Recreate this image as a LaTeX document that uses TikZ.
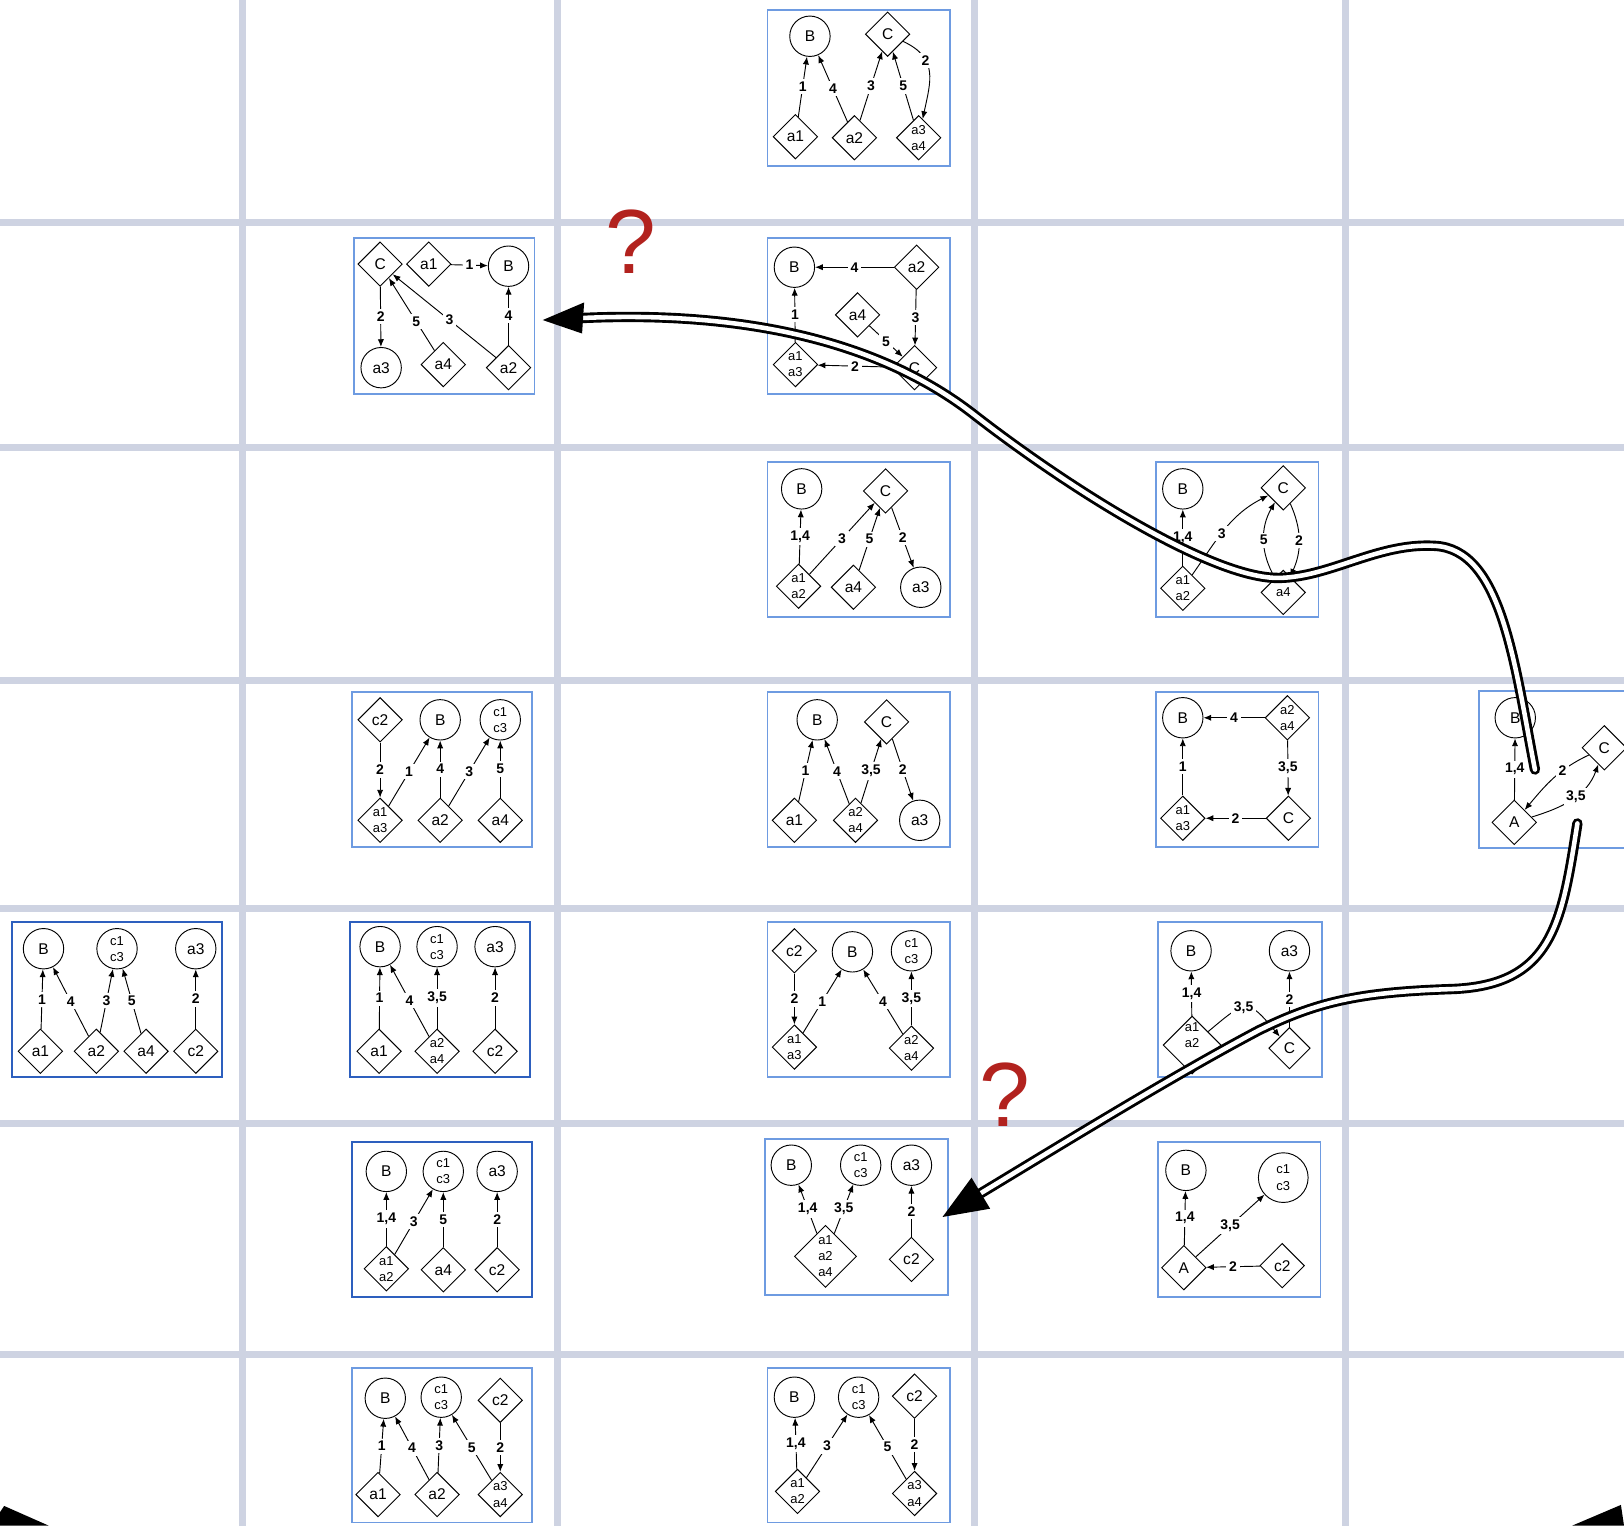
\documentclass[tikz,border=0pt]{standalone}
\usepackage{fontspec}
\setmainfont{Liberation Sans}
\usetikzlibrary{shapes.geometric,arrows.meta}
\definecolor{gridc}{RGB}{206,211,226}
\definecolor{boxc}{RGB}{110,155,225}
\definecolor{dboxc}{RGB}{45,95,190}
\definecolor{qred}{RGB}{178,34,30}
\begin{document}
\begin{tikzpicture}[x=1pt,y=-1pt,
  gridline/.style={draw=gridc, line width=7pt},
  lbox/.style={draw=boxc, line width=1.8pt, fill=white},
  dbox/.style={draw=dboxc, line width=2pt, fill=white},
  cn/.style={circle, draw, line width=0.9pt, minimum size=39pt, inner sep=0pt, font=\fontsize{15}{15}\selectfont},
  dn/.style={diamond, draw, line width=0.9pt, minimum size=43pt, inner sep=0pt, font=\fontsize{15}{15}\selectfont},
  two/.style={align=center, font=\fontsize{12.5}{15.5}\selectfont},
  e/.style={draw, line width=0.9pt, -{Latex[length=7.5pt,width=6pt]}},
  lab/.style={fill=white, inner sep=2.6pt, font=\fontsize{13.5}{13.5}\selectfont\bfseries},
  big/.style={draw=black, line width=2.8pt, double=white, double distance=4.4pt},
  qm/.style={text=qred, font=\fontsize{88}{88}\selectfont, inner sep=0pt},
]
\fill[white] (0,0) rectangle (1568,1473);
\useasboundingbox (0,0) rectangle (1568,1473);
\begin{scope}
\clip (0,0) rectangle (1568,1473);
% grid
\foreach \gx in {234,538,941,1299} {\draw[gridline] (\gx,0) -- (\gx,1473);}
\foreach \gy in {215,432,657,877,1085,1308} {\draw[gridline] (0,\gy) -- (1568,\gy);}
% boxes
\draw[lbox] (741,10) rectangle (917,160);
\draw[lbox] (342,230) rectangle (516,380);
\draw[lbox] (741,230) rectangle (917,380);
\draw[lbox] (741,446) rectangle (917,596);
\draw[lbox] (1116,446) rectangle (1273,596);
\draw[lbox] (340,668) rectangle (514,818);
\draw[lbox] (741,668) rectangle (917,818);
\draw[lbox] (1116,668) rectangle (1273,818);
\draw[lbox] (1428,667) rectangle (1590,819);
\draw[dbox] (12,890) rectangle (214,1040);
\draw[dbox] (338,890) rectangle (512,1040);
\draw[lbox] (741,890) rectangle (917,1040);
\draw[lbox] (1118,890) rectangle (1276,1040);
\draw[dbox] (340,1103) rectangle (514,1252);
\draw[lbox] (739,1100) rectangle (915,1250);
\draw[lbox] (1118,1103) rectangle (1275,1252);
\draw[lbox] (340,1321) rectangle (514,1470);
\draw[lbox] (741,1321) rectangle (917,1470);

% R1
\node[cn] (r1B) at (782,35) {B};
\node[dn] (r1C) at (857,33) {C};
\node[dn] (r1a1) at (768,132) {a1};
\node[dn] (r1a2) at (825,133) {a2};
\node[dn,two] (r1a34) at (887,133) {a3\\a4};
\draw[e] (r1a1) -- node[lab]{1} (r1B);
\draw[e] (r1a2) -- node[lab]{4} (r1B);
\draw[e] (r1a2) -- node[lab]{3} (r1C);
\draw[e] (r1a34) -- node[lab]{5} (r1C);
\draw[e] (r1C) to[out=-25,in=78,looseness=1.25] node[lab,pos=0.33]{2} (r1a34);

% R2L
\node[dn] (r2C) at (367,255) {C};
\node[dn] (r2a1) at (414,255) {a1};
\node[cn] (r2B) at (491,257) {B};
\node[cn] (r2a3) at (368,355) {a3};
\node[dn] (r2a4) at (428,352) {a4};
\node[dn] (r2a2) at (491,355) {a2};
\draw[e] (r2a1) -- node[lab]{1} (r2B);
\draw[e] (r2C) -- node[lab]{2} (r2a3);
\draw[e] (r2a4) -- node[lab,pos=0.4]{5} (r2C);
\draw[e] (r2a2) -- node[lab,pos=0.45]{3} (r2C);
\draw[e] (r2a2) -- node[lab]{4} (r2B);

% R2M
\node[cn] (r2mB) at (767,258) {B};
\node[dn] (r2ma2) at (885,258) {a2};
\node[dn] (r2ma4) at (828,304) {a4};
\node[dn,two] (r2ma13) at (768,352) {a1\\a3};
\node[dn] (r2mC) at (883,355) {C};
\draw[e] (r2ma2) -- node[lab]{4} (r2mB);
\draw[e] (r2ma2) -- node[lab]{3} (r2mC);
\draw[e] (r2ma4) -- node[lab]{5} (r2mC);
\draw[e] (r2mC) -- node[lab]{2} (r2ma13);
\draw[e] (r2ma13) -- node[lab]{1} (r2mB);

% R3M
\node[cn] (r3mB) at (774,472) {B};
\node[dn] (r3mC) at (855,474) {C};
\node[dn,two] (r3ma12) at (771,566) {a1\\a2};
\node[dn] (r3ma4) at (824,567) {a4};
\node[cn] (r3ma3) at (889,567) {a3};
\draw[e] (r3ma12) -- node[lab]{1,4} (r3mB);
\draw[e] (r3ma12) -- node[lab]{3} (r3mC);
\draw[e] (r3ma4) -- node[lab]{5} (r3mC);
\draw[e] (r3mC) -- node[lab]{2} (r3ma3);

% R3R
\node[cn] (r3rB) at (1142,472) {B};
\node[dn] (r3rC) at (1239,471) {C};
\node[dn,two] (r3ra12) at (1142,568) {a1\\a2};
\node[dn,two] (r3ra4) at (1239,572) {a4};
\draw[e] (r3ra12) -- node[lab]{1,4} (r3rB);
\draw[e] (r3ra12) to[out=55,in=207] node[lab,pos=0.45]{3} (r3rC);
\draw[e] (r3ra4) to[bend left=30] node[lab]{5} (r3rC);
\draw[e] (r3rC) to[bend left=24] node[lab]{2} (r3ra4);

% R4L
\node[dn] (r4lc2) at (367,695) {c2};
\node[cn] (r4lB) at (425,695) {B};
\node[cn,two] (r4lc13) at (483,695) {c1\\c3};
\node[dn,two] (r4la13) at (367,792) {a1\\a3};
\node[dn] (r4la2) at (425,792) {a2};
\node[dn] (r4la4) at (483,792) {a4};
\draw[e] (r4lc2) -- node[lab]{2} (r4la13);
\draw[e] (r4la13) -- node[lab]{1} (r4lB);
\draw[e] (r4la2) -- node[lab]{4} (r4lB);
\draw[e] (r4la2) -- node[lab]{3} (r4lc13);
\draw[e] (r4la4) -- node[lab]{5} (r4lc13);

% R4M
\node[cn] (r4mB) at (789,695) {B};
\node[dn] (r4mC) at (856,697) {C};
\node[dn] (r4ma1) at (767,792) {a1};
\node[dn,two] (r4ma24) at (826,792) {a2\\a4};
\node[cn] (r4ma3) at (888,792) {a3};
\draw[e] (r4ma1) -- node[lab]{1} (r4mB);
\draw[e] (r4ma24) -- node[lab]{4} (r4mB);
\draw[e] (r4ma24) -- node[lab]{3,5} (r4mC);
\draw[e] (r4mC) -- node[lab]{2} (r4ma3);

% R4R
\node[cn] (r4rB) at (1142,693) {B};
\node[dn,two] (r4ra24) at (1243,693) {a2\\a4};
\node[dn,two] (r4ra13) at (1142,790) {a1\\a3};
\node[dn] (r4rC) at (1244,790) {C};
\draw[e] (r4ra24) -- node[lab]{4} (r4rB);
\draw[e] (r4ra24) -- node[lab]{3,5} (r4rC);
\draw[e] (r4rC) -- node[lab]{2} (r4ra13);
\draw[e] (r4ra13) -- node[lab]{1} (r4rB);

% R4FR
\node[cn] (r4fB) at (1463,693) {B};
\node[dn] (r4fC) at (1549,722) {C};
\node[dn] (r4fA) at (1462,794) {A};
\draw[e] (r4fA) -- node[lab]{1,4} (r4fB);
\draw[e] (r4fC) to[out=205,in=50] node[lab,pos=0.35]{2} (r4fA);
\draw[e] (r4fA) to[out=17,in=250] node[lab,pos=0.55]{3,5} (r4fC);

% R5_1
\node[cn] (r51B) at (42,916) {B};
\node[cn,two] (r51c13) at (113,916) {c1\\c3};
\node[cn] (r51a3) at (189,916) {a3};
\node[dn] (r51a1) at (39,1015) {a1};
\node[dn] (r51a2) at (93,1015) {a2};
\node[dn] (r51a4) at (141,1015) {a4};
\node[dn] (r51c2) at (189,1015) {c2};
\draw[e] (r51a1) -- node[lab]{1} (r51B);
\draw[e] (r51a2) -- node[lab]{4} (r51B);
\draw[e] (r51a2) -- node[lab]{3} (r51c13);
\draw[e] (r51a4) -- node[lab]{5} (r51c13);
\draw[e] (r51c2) -- node[lab]{2} (r51a3);

% R5_2
\node[cn] (r52B) at (367,914) {B};
\node[cn,two] (r52c13) at (422,914) {c1\\c3};
\node[cn] (r52a3) at (478,914) {a3};
\node[dn] (r52a1) at (366,1015) {a1};
\node[dn,two] (r52a24) at (422,1015) {a2\\a4};
\node[dn] (r52c2) at (478,1015) {c2};
\draw[e] (r52a1) -- node[lab]{1} (r52B);
\draw[e] (r52a24) -- node[lab]{4} (r52B);
\draw[e] (r52a24) -- node[lab]{3,5} (r52c13);
\draw[e] (r52c2) -- node[lab]{2} (r52a3);

% R5M
\node[dn] (r5mc2) at (767,918) {c2};
\node[cn] (r5mB) at (823,919) {B};
\node[cn,two] (r5mc13) at (880,918) {c1\\c3};
\node[dn,two] (r5ma13) at (767,1011) {a1\\a3};
\node[dn,two] (r5ma24) at (880,1012) {a2\\a4};
\draw[e] (r5mc2) -- node[lab]{2} (r5ma13);
\draw[e] (r5ma13) -- node[lab]{1} (r5mB);
\draw[e] (r5ma24) -- node[lab]{4} (r5mB);
\draw[e] (r5ma24) -- node[lab]{3,5} (r5mc13);

% R5R
\node[cn] (r5rB) at (1150,918) {B};
\node[cn] (r5ra3) at (1245,918) {a3};
\node[dn,minimum size=56pt] (r5rA) at (1151,1009) {};
\node[two,inner sep=0pt] (r5rAt) at (1151,999) {a1\\a2};
\node[dn,minimum size=40pt] (r5rC) at (1245,1012) {C};
\draw[e] (r5rA) -- node[lab]{1,4} (r5rB);
\draw[e] (r5rA) to[out=40,in=130,looseness=1.8] node[lab,pos=0.45]{3,5} (r5rC);
\draw[e] (r5rC) -- node[lab]{2} (r5ra3);

% R6L
\node[cn] (r6lB) at (373,1131) {B};
\node[cn,two] (r6lc13) at (428,1131) {c1\\c3};
\node[cn] (r6la3) at (480,1131) {a3};
\node[dn,two] (r6la12) at (373,1225) {a1\\a2};
\node[dn] (r6la4) at (428,1226) {a4};
\node[dn] (r6lc2) at (480,1226) {c2};
\draw[e] (r6la12) -- node[lab]{1,4} (r6lB);
\draw[e] (r6la12) -- node[lab]{3} (r6lc13);
\draw[e] (r6la4) -- node[lab]{5} (r6lc13);
\draw[e] (r6lc2) -- node[lab]{2} (r6la3);

% R6M
\node[cn] (r6mB) at (764,1125) {B};
\node[cn,two] (r6mc13) at (831,1125) {c1\\c3};
\node[cn] (r6ma3) at (880,1125) {a3};
\node[dn,two,minimum size=60pt] (r6ma124) at (797,1213) {a1\\a2\\a4};
\node[dn] (r6mc2) at (880,1216) {c2};
\draw[e] (r6ma124) -- node[lab]{1,4} (r6mB);
\draw[e] (r6ma124) -- node[lab]{3,5} (r6mc13);
\draw[e] (r6mc2) -- node[lab]{2} (r6ma3);

% R6R
\node[cn] (r6rB) at (1145,1130) {B};
\node[cn,two,minimum size=48pt] (r6rc13) at (1239,1137) {c1\\c3};
\node[dn] (r6rA) at (1143,1224) {A};
\node[dn] (r6rc2) at (1238,1222) {c2};
\draw[e] (r6rA) -- node[lab]{1,4} (r6rB);
\draw[e] (r6rA) -- node[lab]{3,5} (r6rc13);
\draw[e] (r6rc2) -- node[lab]{2} (r6rA);

% R7L
\node[cn] (r7lB) at (372,1350) {B};
\node[cn,two] (r7lc13) at (426,1349) {c1\\c3};
\node[dn] (r7lc2) at (483,1352) {c2};
\node[dn] (r7la1) at (365,1443) {a1};
\node[dn] (r7la2) at (422,1443) {a2};
\node[dn,two] (r7la34) at (483,1443) {a3\\a4};
\draw[e] (r7la1) -- node[lab]{1} (r7lB);
\draw[e] (r7la2) -- node[lab]{4} (r7lB);
\draw[e] (r7la2) -- node[lab]{3} (r7lc13);
\draw[e] (r7la34) -- node[lab]{5} (r7lc13);
\draw[e] (r7lc2) -- node[lab]{2} (r7la34);

% R7M
\node[cn] (r7mB) at (767,1349) {B};
\node[cn,two] (r7mc13) at (829,1349) {c1\\c3};
\node[dn] (r7mc2) at (883,1348) {c2};
\node[dn,two] (r7ma12) at (770,1440) {a1\\a2};
\node[dn,two] (r7ma34) at (883,1442) {a3\\a4};
\draw[e] (r7ma12) -- node[lab]{1,4} (r7mB);
\draw[e] (r7ma12) -- node[lab]{3} (r7mc13);
\draw[e] (r7ma34) -- node[lab]{5} (r7mc13);
\draw[e] (r7mc2) -- node[lab]{2} (r7ma34);

% question marks
\node[qm] (q1) at (609,233) {?};
\node[qm] (q2) at (970,1057) {?};

% big arrow 1
\coordinate (b1s) at (1482,743);
\coordinate (b1e) at (563,307);
\coordinate (b1t) at (524,309);
\draw[big, line cap=round] (b1s) .. controls (1462,640) and (1450,530) .. (1385,527)
  .. controls (1330,524) and (1285,557) .. (1235,558)
  .. controls (1170,559) and (1030,470) .. (940,400)
  .. controls (850,330) and (720,300) .. (b1e);
\fill (b1t) -- (564,292) -- (562,322) -- cycle;
% big arrow 2
\coordinate (b2s) at (1523,795);
\coordinate (b2e) at (947,1152);
\coordinate (b2t) at (910,1175);
\draw[big, line cap=round] (b2s) .. controls (1508,890) and (1500,952) .. (1400,955)
  .. controls (1310,958) and (1270,968) .. (1215,995)
  .. controls (1130,1040) and (1020,1108) .. (b2e);
\fill (b2t) -- (956,1167) -- (938,1137) -- cycle;

% corner arrow tips
\fill (4,1454) -- (47,1473) -- (0,1473) -- (0,1460) -- cycle;
\fill (1565,1453) -- (1518,1473) -- (1568,1473) -- cycle;
\end{scope}
\end{tikzpicture}
\end{document}
